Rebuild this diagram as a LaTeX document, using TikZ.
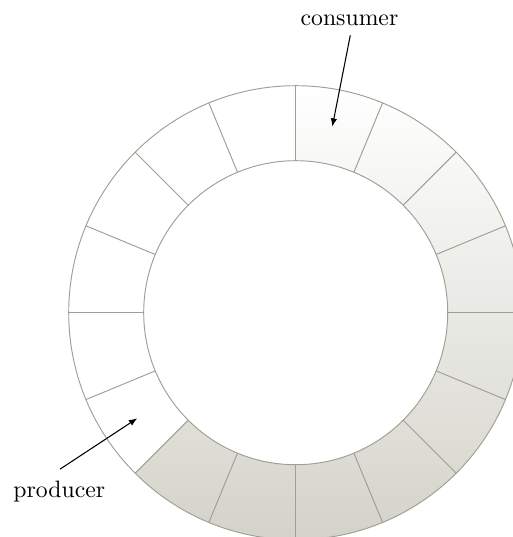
\documentclass[tikz,border=0pt]{standalone}
\usetikzlibrary{calc,arrows.meta}
\definecolor{ringline}{RGB}{160,159,148}
\definecolor{ringfill}{RGB}{212,211,202}
\begin{document}
\begin{tikzpicture}[x=0.4219pt,y=0.4219pt,
  ring/.style={draw=ringline, line width=0.4pt},
  label/.style={font=\normalsize, anchor=base},
  pointer/.style={-{Latex[length=3.5pt,width=2.7pt]}, line width=0.45pt, black}]
  \useasboundingbox (0,0) rectangle (513,537);
  \coordinate (c) at (295.7,224.3);
  % occupied slots of the buffer, shaded from top to bottom
  \path[shade, top color=white, bottom color=ringfill]
    ($(c)+(90:227)$) arc[start angle=90, end angle=-135, radius=227]
    -- ($(c)+(-135:152)$) arc[start angle=-135, end angle=90, radius=152] -- cycle;
  % ring outline
  \draw[ring] (c) circle[radius=227];
  \draw[ring] (c) circle[radius=152];
  % slot separators
  \foreach \a in {0,22.5,...,337.5}
    \draw[ring] ($(c)+(\a:152)$) -- ($(c)+(\a:227)$);
  % labels and pointers
  \node[label] (consumer) at (349.5,511.3) {consumer};
  \node[label] (producer) at (59.3,40) {producer};
  \coordinate (cslot) at (332.3,410.3);
  \coordinate (pslot) at (137.3,118.7);
  \draw[pointer] (consumer.south) ++(0.8,-1) -- (cslot);
  \draw[pointer] (producer.north) ++(0.7,3) -- (pslot);
\end{tikzpicture}
\end{document}
